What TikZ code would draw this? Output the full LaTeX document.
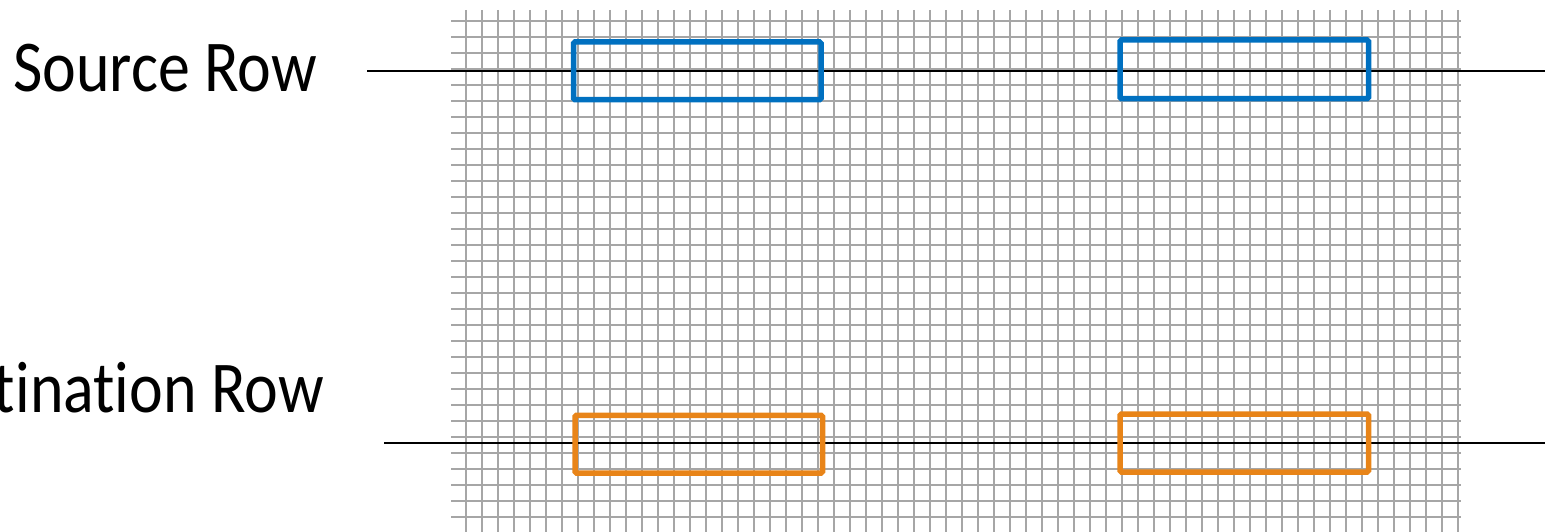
\documentclass[tikz,border=0pt]{standalone}
\usepackage{fontspec}
\setmainfont{Carlito}
\newfontfamily\rowfont{Carlito}[FakeStretch=0.875,RawFeature={-liga}]
\usepackage{tikz}
\definecolor{rblue}{HTML}{0070C0}
\definecolor{rorange}{HTML}{E88418}
\definecolor{rgrid}{HTML}{A6A6A6}

\begin{document}
\begin{tikzpicture}[x=1pt,y=-1pt,
    gridline/.style={draw=rgrid,line width=2pt},
    rowline/.style={draw=black,line width=2.8pt},
    rowlabel/.style={inner sep=0pt,font=\rowfont\fontsize{73}{78}\selectfont},
    srcbox/.style={draw=rblue,line width=5.5pt,rounded corners=1.5pt},
    dstbox/.style={draw=rorange,line width=5.5pt,rounded corners=1.5pt}]
  \useasboundingbox (0,0) rectangle (1545,532);
  \foreach \k in {0,...,31}
    \draw[gridline] (451,20.7+16*\k) -- (1461,20.7+16*\k);
  \foreach \j in {0,...,62}
    \draw[gridline] (466+16*\j,10) -- (466+16*\j,540);
  \node[rowlabel,anchor=base west] (srclabel) at (13,92) {Source Row};
  \node[rowlabel,anchor=base east] (dstlabel) at (324,412) {Destination Row};
  \coordinate (srcstart) at (367,71);
  \coordinate (srcend) at (1550,71);
  \coordinate (dststart) at (384,443);
  \coordinate (dstend) at (1550,443);
  \draw[rowline] (srcstart) -- (srcend);
  \draw[rowline] (dststart) -- (dstend);
  \draw[srcbox] (573.5,42) rectangle (821,99.7);
  \draw[srcbox] (1120,40) rectangle (1368.5,98.7);
  \draw[dstbox] (575,415.3) rectangle (822.5,473);
  \draw[dstbox] (1120,414) rectangle (1368.5,472);
\end{tikzpicture}
\end{document}
